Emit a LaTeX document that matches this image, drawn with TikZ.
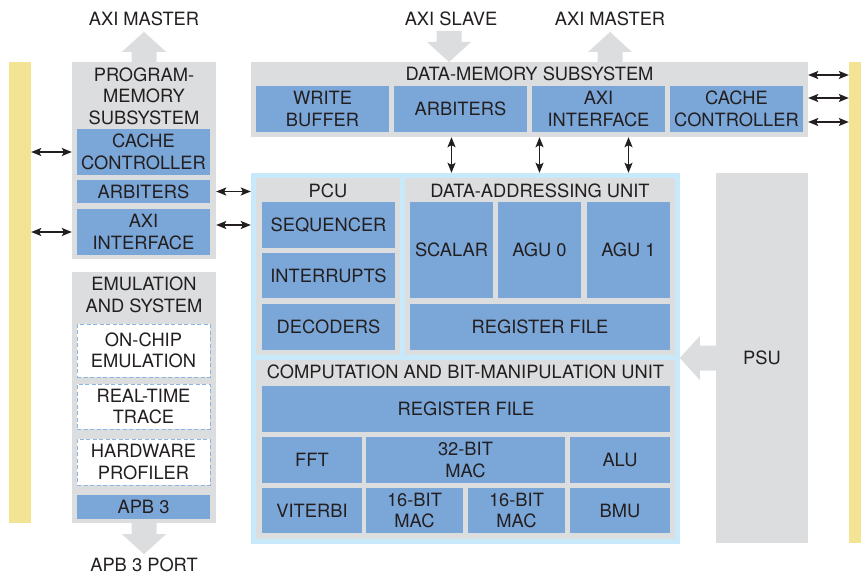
\documentclass[tikz,border=0pt]{standalone}
\usepackage{fontspec}
\setmainfont{TeX Gyre Heros}
\usetikzlibrary{arrows.meta,positioning,calc}
\definecolor{BarYellow}{RGB}{243,228,148}
\definecolor{PanelGray}{RGB}{220,221,222}
\definecolor{UnitBlue}{RGB}{123,166,216}
\definecolor{DashBlue}{RGB}{140,180,226}
\definecolor{FrameBlue}{RGB}{199,233,249}
\definecolor{InkBlack}{RGB}{35,31,32}
\tikzset{
  every node/.style={font=\fontsize{18.3}{21.5}\selectfont,text=InkBlack,
    inner sep=0pt,align=center},
  bar/.style 2 args={fill=BarYellow,minimum width=#1,minimum height=#2},
  panel/.style 2 args={fill=PanelGray,minimum width=#1,minimum height=#2},
  frame/.style 2 args={fill=FrameBlue,minimum width=#1,minimum height=#2},
  unit/.style 2 args={fill=UnitBlue,minimum width=#1,minimum height=#2},
  debugbox/.style 2 args={fill=white,draw=DashBlue,line width=1pt,
    dash pattern=on 4pt off 2.5pt,minimum width=#1,minimum height=#2},
  dblarrow/.style={{Stealth[length=10pt,width=8pt,inset=2pt]}-{Stealth[length=10pt,width=8pt,inset=2pt]},
    line width=1.2pt,InkBlack},
  fatarrow/.pic={\fill[PanelGray] (0,-12.5) -- (#1,-12.5) -- (#1,-22)
    -- (#1+20,0) -- (#1,22) -- (#1,12.5) -- (0,12.5) -- cycle;}
}

\begin{document}
\begin{tikzpicture}[x=1pt,y=-1pt]
\useasboundingbox (0,0) rectangle (861,575);

% side buses
\node[bar={22pt}{461pt}] (leftbar) at (20,292.5) {};
\node[bar={12pt}{481pt}] (rightbar) at (855,302.5) {};

% program memory
\node[panel={144pt}{197pt}] (pmss) at (144,160.5) {};
\node (pmtitle) at (144,96) {PROGRAM-\\MEMORY\\SUBSYSTEM};
\node[unit={133pt}{46pt}] (pmcache) at (143.5,152) {CACHE\\CONTROLLER};
\node[unit={133pt}{23pt}] (pmarb) at (143.5,191.5) {ARBITERS};
\node[unit={133pt}{46pt}] (pmaxi) at (143.5,232) {AXI\\INTERFACE};

% emulation
\node[panel={144pt}{251pt}] (emss) at (144,397.5) {};
\node (emtitle) at (144,295) {EMULATION\\AND SYSTEM};
\node[debugbox={133pt}{53pt}] (emocd) at (143.5,350.5) {ON-CHIP\\EMULATION};
\node[debugbox={133pt}{45pt}] (emrtt) at (143.5,406.5) {REAL-TIME\\TRACE};
\node[debugbox={133pt}{46pt}] (emhwp) at (143.5,462) {HARDWARE\\PROFILER};
\node[unit={133pt}{24pt}] (emapb) at (143.5,507) {APB 3};

% data memory
\node[panel={557pt}{75pt}] (dmss) at (529.5,99.5) {};
\node (dmtitle) at (529.5,74) {DATA-MEMORY SUBSYSTEM};
\node[unit={133pt}{46pt}] (dmwb) at (322.5,109) {WRITE\\BUFFER};
\node[unit={133pt}{46pt}] (dmarb) at (460.5,109) {ARBITERS};
\node[unit={133pt}{46pt}] (dmaxi) at (598.5,109) {AXI\\INTERFACE};
\node[unit={133pt}{46pt}] (dmcc) at (736.5,109) {CACHE\\CONTROLLER};

% core
\node[frame={429pt}{371pt}] (core) at (465.5,358.5) {};
\node[panel={144pt}{177pt}] (pcu) at (328,266.5) {};
\node (pcutitle) at (328,191) {PCU};
\node[unit={133pt}{46pt}] (seq) at (328.5,225) {SEQUENCER};
\node[unit={133pt}{45pt}] (intr) at (328.5,275.5) {INTERRUPTS};
\node[unit={133pt}{46pt}] (dec) at (328.5,327) {DECODERS};
\node[panel={270pt}{177pt}] (dau) at (540,266.5) {};
\node (dautitle) at (540,191) {DATA-ADDRESSING UNIT};
\node[unit={83pt}{96pt}] (scalar) at (451.5,250) {SCALAR};
\node[unit={83pt}{96pt}] (agu0) at (539.5,250) {AGU 0};
\node[unit={83pt}{96pt}] (agu1) at (628.5,250) {AGU 1};
\node[unit={260pt}{46pt}] (daureg) at (540,327) {REGISTER FILE};
\node[panel={419pt}{179pt}] (cbmu) at (465.5,449.5) {};
\node (cbmutitle) at (465.5,372) {COMPUTATION AND BIT-MANIPULATION UNIT};
\node[unit={408pt}{46pt}] (cbreg) at (466,409) {REGISTER FILE};
\node[unit={100pt}{46pt}] (fft) at (312,460) {FFT};
\node[unit={199pt}{46pt}] (mac32) at (465.5,460) {32-BIT\\MAC};
\node[unit={100pt}{46pt}] (alu) at (620,460) {ALU};
\node[unit={100pt}{45pt}] (vit) at (312,510.5) {VITERBI};
\node[unit={97pt}{45pt}] (mac16a) at (414.5,510.5) {16-BIT\\MAC};
\node[unit={97pt}{45pt}] (mac16b) at (516.5,510.5) {16-BIT\\MAC};
\node[unit={100pt}{45pt}] (bmu) at (620,510.5) {BMU};

% power
\node[panel={92pt}{370pt}] (psu) at (762,358) {PSU};

% ports
\pic[rotate=90] at (pmss.north) {fatarrow=10};
\node (pmport) at (144,19) {AXI MASTER};
\pic[rotate=-90] at (449,31) {fatarrow=11};
\node (dmslave) at (451,19) {AXI SLAVE};
\pic[rotate=90] at (610,62) {fatarrow=10};
\node (dmport) at (610,19) {AXI MASTER};
\pic[rotate=-90] at (emss.south) {fatarrow=11};
\node (apbport) at (144,565) {APB 3 PORT};
\pic[rotate=180] at (psu.west) {fatarrow=16};

% links
\draw[dblarrow] (leftbar.east |- pmcache) -- (pmss.west |- pmcache);
\draw[dblarrow] (leftbar.east |- pmaxi) -- (pmss.west |- pmaxi);
\draw[dblarrow] (pmss.east |- pmarb) -- (core.west |- pmarb);
\draw[dblarrow] (pmss.east |- seq) -- (core.west |- seq);
\foreach \yy in {75,98,122}
  \draw[dblarrow] (dmss.east |- 0,\yy) -- (rightbar.west |- 0,\yy);
\foreach \uu in {scalar,agu0,agu1}
  \draw[dblarrow] (\uu |- dmss.south) -- (\uu |- core.north);
\end{tikzpicture}
\end{document}
